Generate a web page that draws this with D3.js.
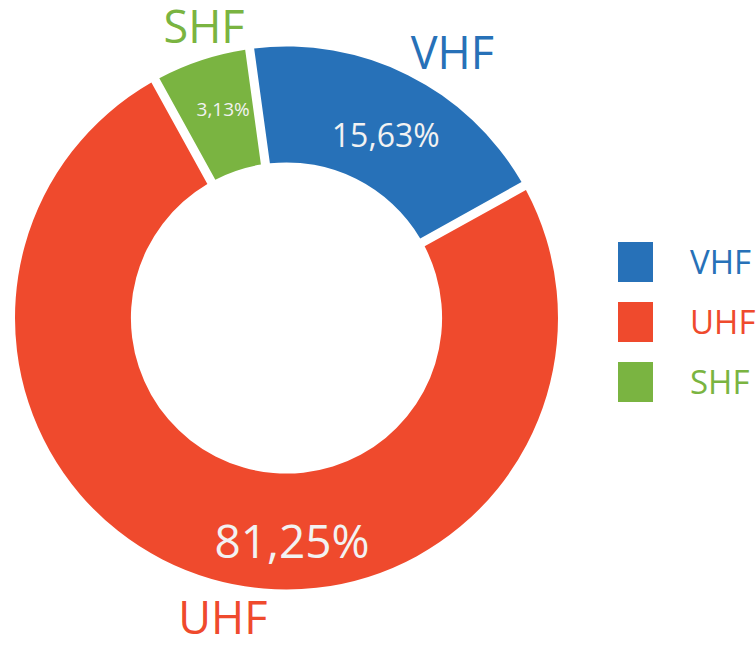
<!DOCTYPE html>
<html>
<head>
<meta charset="utf-8">
<script src="https://cdn.jsdelivr.net/npm/d3@7"></script>
<style>
  body { margin: 0; background: #fff; }
  svg text { font-family: "Open Sans", "Noto Sans", sans-serif; }
</style>
</head>
<body>
<svg id="donut" width="756" height="645"></svg>
<script>
// bands and the shares printed on the slices
const bands = ["VHF", "UHF", "SHF"];
const shares = [15.63, 81.25, 3.13];
// arc each slice covers in the picture, in degrees (the drawing is not to scale with the labels)
const sliceDegrees = [68.0, 272.3, 19.7];
const colors = ["#2771b8", "#ef4a2d", "#7ab441"];

function drawDonut() {
  const svg = d3.select("#donut");
  const cx = 286.5, cy = 318;
  const outerR = 271.5, innerR = 155.6;
  const rad = deg => deg * Math.PI / 180;

  const color = d3.scaleOrdinal().domain(bands).range(colors);

  const rows = bands.map((b, i) => ({ band: b, share: shares[i], deg: sliceDegrees[i] }));

  const pie = d3.pie()
    .sort(null)
    .value(d => d.deg)
    .startAngle(rad(-7.8))
    .endAngle(rad(-7.8) + 2 * Math.PI)
    .padAngle(0.029);

  const arc = d3.arc().innerRadius(innerR).outerRadius(outerR);

  const g = svg.append("g").attr("transform", `translate(${cx},${cy})`);

  g.selectAll("path")
    .data(pie(rows))
    .enter().append("path")
    .attr("d", arc)
    .attr("fill", d => color(d.data.band));

  // label placement, polar: [angle deg clockwise from top, radius]
  const pctPos = { VHF: [28.5, 208], UHF: [178.6, 224], SHF: [-16.9, 218] };
  const pctSize = { VHF: 32, UHF: 46, SHF: 19 };
  const namePos = { VHF: [32, 313], UHF: [192, 306], SHF: [-15.8, 303] };
  const polar = ([a, r]) => [r * Math.sin(rad(a)), -r * Math.cos(rad(a))];
  const fmt = v => d3.format(".2f")(v).replace(".", ",") + "%";

  g.selectAll(".pct")
    .data(rows)
    .enter().append("text")
    .attr("class", "pct")
    .attr("x", d => polar(pctPos[d.band])[0])
    .attr("y", d => polar(pctPos[d.band])[1])
    .attr("dy", "0.36em")
    .attr("text-anchor", "middle")
    .style("font-size", d => pctSize[d.band] + "px")
    .style("fill", "#f2f2f2")
    .text(d => fmt(d.share));

  g.selectAll(".name")
    .data(rows)
    .enter().append("text")
    .attr("class", "name")
    .attr("x", d => polar(namePos[d.band])[0])
    .attr("y", d => polar(namePos[d.band])[1])
    .attr("dy", "0.36em")
    .attr("text-anchor", "middle")
    .style("font-size", "45px")
    .style("fill", d => color(d.band))
    .text(d => d.band);

  // legend
  const legendY = d3.scalePoint().domain(bands).range([262, 382]);
  const legend = svg.append("g");

  legend.selectAll("rect")
    .data(bands)
    .enter().append("rect")
    .attr("x", 618)
    .attr("y", d => legendY(d) - 20)
    .attr("width", 35)
    .attr("height", 40)
    .attr("fill", d => color(d));

  legend.selectAll("text")
    .data(bands)
    .enter().append("text")
    .attr("x", 690)
    .attr("y", d => legendY(d))
    .attr("dy", "0.36em")
    .style("font-size", "33px")
    .style("fill", d => color(d))
    .text(d => d);
}

drawDonut();
</script>
</body>
</html>
